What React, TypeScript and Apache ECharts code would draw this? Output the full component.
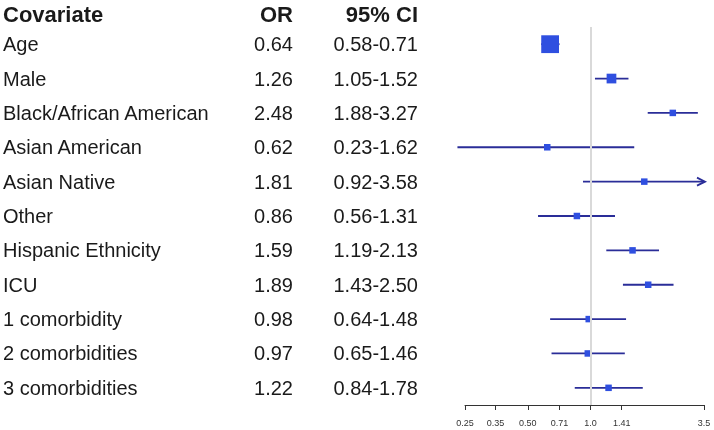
import React, { useEffect, useRef } from "react";
import * as echarts from "echarts";

const covariates = [
  "Age",
  "Male",
  "Black/African American",
  "Asian American",
  "Asian Native",
  "Other",
  "Hispanic Ethnicity",
  "ICU",
  "1 comorbidity",
  "2 comorbidities",
  "3 comorbidities",
];
const orValues = [0.64, 1.26, 2.48, 0.62, 1.81, 0.86, 1.59, 1.89, 0.98, 0.97, 1.22];
const ciLower = [0.58, 1.05, 1.88, 0.23, 0.92, 0.56, 1.19, 1.43, 0.64, 0.65, 0.84];
const ciUpper = [0.71, 1.52, 3.27, 1.62, 3.58, 1.31, 2.13, 2.5, 1.48, 1.46, 1.78];
const tickValues = [0.25, 0.35, 0.5, 0.71, 1.0, 1.41, 3.5];
const tickLabels = ["0.25", "0.35", "0.50", "0.71", "1.0", "1.41", "3.5"];
const headers = ["Covariate", "OR", "95% CI"];

const FONT = "'Liberation Sans', Arial, Helvetica, sans-serif";
const TEXT_COLOR = "#1a1a1a";
const BOX_COLOR = "#2f4fe0";
const LINE_COLOR = "#2a2d98";

const log2 = (v: number) => Math.log(v) / Math.LN2;
const axisMin = log2(tickValues[0]);
const axisMax = log2(tickValues[tickValues.length - 1]);

export default function App() {
  const ref = useRef<HTMLDivElement>(null);
  useEffect(() => {
    if (!ref.current) return;
    const chart = echarts.init(ref.current, undefined, { renderer: "svg" });

    const GRID_TOP = 27;
    const GRID_H = 378;
    const PLOT_LEFT = 465;
    const PLOT_RIGHT = 704;

    const textSeries = (xPix: number, align: string, getText: (i: number) => string) => ({
      type: "custom",
      xAxisIndex: 0,
      yAxisIndex: 0,
      silent: true,
      data: covariates.map((_, i) => [i]),
      encode: { y: 0 },
      renderItem: (params: any, api: any) => {
        const idx = api.value(0);
        const p = api.coord([xPix, idx]);
        return {
          type: "text",
          x: p[0],
          y: p[1],
          style: {
            text: getText(idx),
            textAlign: align,
            textVerticalAlign: "middle",
            fontSize: 20,
            fontFamily: FONT,
            fill: TEXT_COLOR,
          },
        };
      },
    });

    const forestData = covariates.map((_, i) => [
      log2(orValues[i]),
      i,
      log2(ciLower[i]),
      log2(ciUpper[i]),
      Math.max(6.5, 3.6 / Math.log(ciUpper[i] / ciLower[i])),
    ]);

    const headerStyle = (text: string, align: string) => ({
      text,
      textAlign: align,
      textVerticalAlign: "middle",
      fontSize: 22,
      fontWeight: "bold",
      fontFamily: FONT,
      fill: TEXT_COLOR,
    });

    const option: any = {
      animation: false,
      textStyle: { fontFamily: FONT },
      grid: [
        { left: 0, top: GRID_TOP, width: 440, height: GRID_H, show: false },
        { left: PLOT_LEFT, top: GRID_TOP, width: PLOT_RIGHT - PLOT_LEFT, height: GRID_H, show: false },
      ],
      xAxis: [
        { type: "value", gridIndex: 0, min: 0, max: 440, show: false },
        {
          type: "value",
          gridIndex: 1,
          min: axisMin,
          max: axisMax,
          splitLine: { show: false },
          axisLine: { show: true, onZero: false, lineStyle: { color: "#333", width: 1 } },
          axisTick: {
            show: true,
            length: 5,
            inside: false,
            customValues: tickValues.map(log2),
            lineStyle: { color: "#333", width: 1 },
          },
          axisLabel: {
            show: true,
            customValues: tickValues.map(log2),
            fontSize: 9,
            color: "#333",
            margin: 13,
            fontFamily: FONT,
            formatter: (v: number) => {
              let best = 0;
              let bd = Infinity;
              tickValues.forEach((t, k) => {
                const d = Math.abs(log2(t) - v);
                if (d < bd) {
                  bd = d;
                  best = k;
                }
              });
              return tickLabels[best];
            },
          },
        },
      ],
      yAxis: [
        { type: "category", gridIndex: 0, data: covariates, inverse: true, show: false },
        { type: "category", gridIndex: 1, data: covariates, inverse: true, show: false },
      ],
      graphic: [
        { type: "text", x: 3, y: 14, style: headerStyle(headers[0], "left") },
        { type: "text", x: 293, y: 14, style: headerStyle(headers[1], "right") },
        { type: "text", x: 418, y: 14, style: headerStyle(headers[2], "right") },
      ],
      series: [
        textSeries(3, "left", (i) => covariates[i]),
        textSeries(293, "right", (i) => orValues[i].toFixed(2)),
        textSeries(418, "right", (i) => `${ciLower[i].toFixed(2)}-${ciUpper[i].toFixed(2)}`),
        {
          type: "custom",
          xAxisIndex: 1,
          yAxisIndex: 1,
          clip: false,
          silent: true,
          data: forestData,
          encode: { x: 0, y: 1 },
          markLine: {
            silent: true,
            symbol: "none",
            label: { show: false },
            lineStyle: { color: "#d9d9d9", width: 2, type: "solid" },
            data: [{ xAxis: 0 }],
          },
          renderItem: (params: any, api: any) => {
            const idx = api.value(1);
            const c = api.coord([api.value(0), idx]);
            const hiVal = api.value(3);
            const truncated = hiVal > axisMax;
            const lo = api.coord([api.value(2), idx]);
            const hi = api.coord([truncated ? axisMax : hiVal, idx]);
            const s = api.value(4);
            const children: any[] = [
              {
                type: "line",
                shape: { x1: lo[0], y1: lo[1], x2: hi[0], y2: hi[1] },
                style: { stroke: LINE_COLOR, lineWidth: 1.8 },
              },
            ];
            if (truncated) {
              children.push({
                type: "polyline",
                shape: { points: [[hi[0] - 7, hi[1] - 4], [hi[0] + 1, hi[1]], [hi[0] - 7, hi[1] + 4]] },
                style: { stroke: LINE_COLOR, lineWidth: 1.8, fill: "none" },
              });
            }
            children.push({
              type: "rect",
              shape: { x: c[0] - s / 2, y: c[1] - s / 2, width: s, height: s },
              style: { fill: BOX_COLOR },
            });
            return { type: "group", children };
          },
        },
      ],
    };
    chart.setOption(option);
    return () => chart.dispose();
  }, []);
  return <div ref={ref} style={{ position: "fixed", left: 0, top: 0, width: 714, height: 430 }} />;
}
